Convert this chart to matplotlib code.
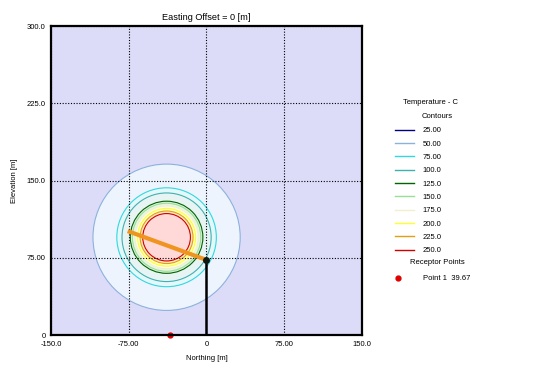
import numpy as np
import matplotlib.pyplot as plt
from matplotlib.patches import Circle
from matplotlib.lines import Line2D
from matplotlib.legend_handler import HandlerLine2D

plt.rcParams['font.family'] = ['Liberation Sans', 'DejaVu Sans']
plt.rcParams['font.size'] = 5.5

# contour levels (C) and radius of each contour around the plume centre (m)
levels = [25, 50, 75, 100, 125, 150, 175, 200, 225, 250]
radii = [None, 71, 48, 43, 35, 33, 30.5, 28, 25.5, 23]
center = (-38.5, 95)

line_cols = ['#000080', '#8cb2dc', '#30d8e0', '#40b0b0', '#006400',
             '#98e098', '#f0f0d0', '#ffff30', '#e0a010', '#d00000']
fill_cols = [None, '#eef4fe', '#e4f8fa', '#e8f4f4', '#e0f0e0',
             '#eaf6e2', '#fbfbe8', '#ffffc8', '#ffe8c0', '#ffd8d8']

# plume centreline and stack
plume_x = [-76, 0]
plume_y = [101, 73]
stack_x = [0, 0]
stack_y = [0, 73]

# receptor
rec_x, rec_y = -35, 0
rec_label = 'Point 1  39.67'


class LeftDot(HandlerLine2D):
    # marker drawn at the left of the handle box (marker sits mid-line)
    def get_xdata(self, legend, xdescent, ydescent, width, height, fontsize):
        xd = np.array([-xdescent, -xdescent + 4.0])
        return xd, np.array([-xdescent + 2.0])


fig = plt.figure(figsize=(5.5, 3.77), dpi=100)
ax = fig.add_axes([0.0927, 0.111, 0.5655, 0.82])
ax.set_facecolor('#dcdcf8')

for lev, r, lc, fc in zip(levels, radii, line_cols, fill_cols):
    if r is None:
        continue
    ax.add_patch(Circle(center, r, facecolor=fc, edgecolor=lc, lw=0.8, zorder=1))

ax.plot(plume_x, plume_y, color='#f09420', lw=3, solid_capstyle='butt', zorder=3)
ax.plot(stack_x, stack_y, color='black', lw=1.8, zorder=3)
ax.plot(stack_x[1:], stack_y[1:], 'o', color='#101810', ms=4, zorder=4)
ax.plot([rec_x], [rec_y], 'o', color='#e00000', ms=3.5, clip_on=False, zorder=2)

ax.set_xlim(-150, 150)
ax.set_ylim(0, 300)
ax.set_xticks([-150, -75, 0, 75, 150])
ax.set_xticklabels(['-150.0', '-75.00', '0', '75.00', '150.0'])
ax.set_yticks([0, 75, 150, 225, 300])
ax.set_yticklabels(['0', '75.00', '150.0', '225.0', '300.0'])
ax.tick_params(length=0, pad=4)
ax.grid(True, color='black', linestyle=(0, (1, 1.5)), lw=0.8)
ax.set_axisbelow(False)
for s in ax.spines.values():
    s.set_linewidth(1.6)

ax.set_title('Easting Offset = 0 [m]', pad=4)
ax.set_xlabel('Northing [m]', labelpad=5)
ax.set_ylabel('Elevation [m]', labelpad=6)

# legend
fig.text(0.7836, 0.7270, 'Temperature - C', ha='center', va='center')
fig.text(0.7955, 0.6923, 'Contours', ha='center', va='center')
fig.text(0.7955, 0.3024, 'Receptor Points', ha='center', va='center')

handles = [Line2D([], [], color=c, lw=1) for c in line_cols]
labels = [f'{v:.2f}' if v < 100 else f'{v:.1f}' for v in levels]
leg1 = fig.legend(handles, labels,
                  loc='upper left', bbox_to_anchor=(0.711, 0.673),
                  frameon=False, handlelength=2.5, handletextpad=1.15,
                  labelspacing=0.78, borderpad=0, fontsize=5.5)

rh = Line2D([], [], color='#e00000', marker='o', ms=3.5, lw=0)
leg2 = fig.legend([rh], [rec_label],
                  handler_map={rh: LeftDot(numpoints=1)},
                  loc='upper left', bbox_to_anchor=(0.711, 0.281),
                  frameon=False, handlelength=2.5, handletextpad=1.15,
                  borderpad=0, fontsize=5.5)

fig.savefig('out.png', dpi=100)
